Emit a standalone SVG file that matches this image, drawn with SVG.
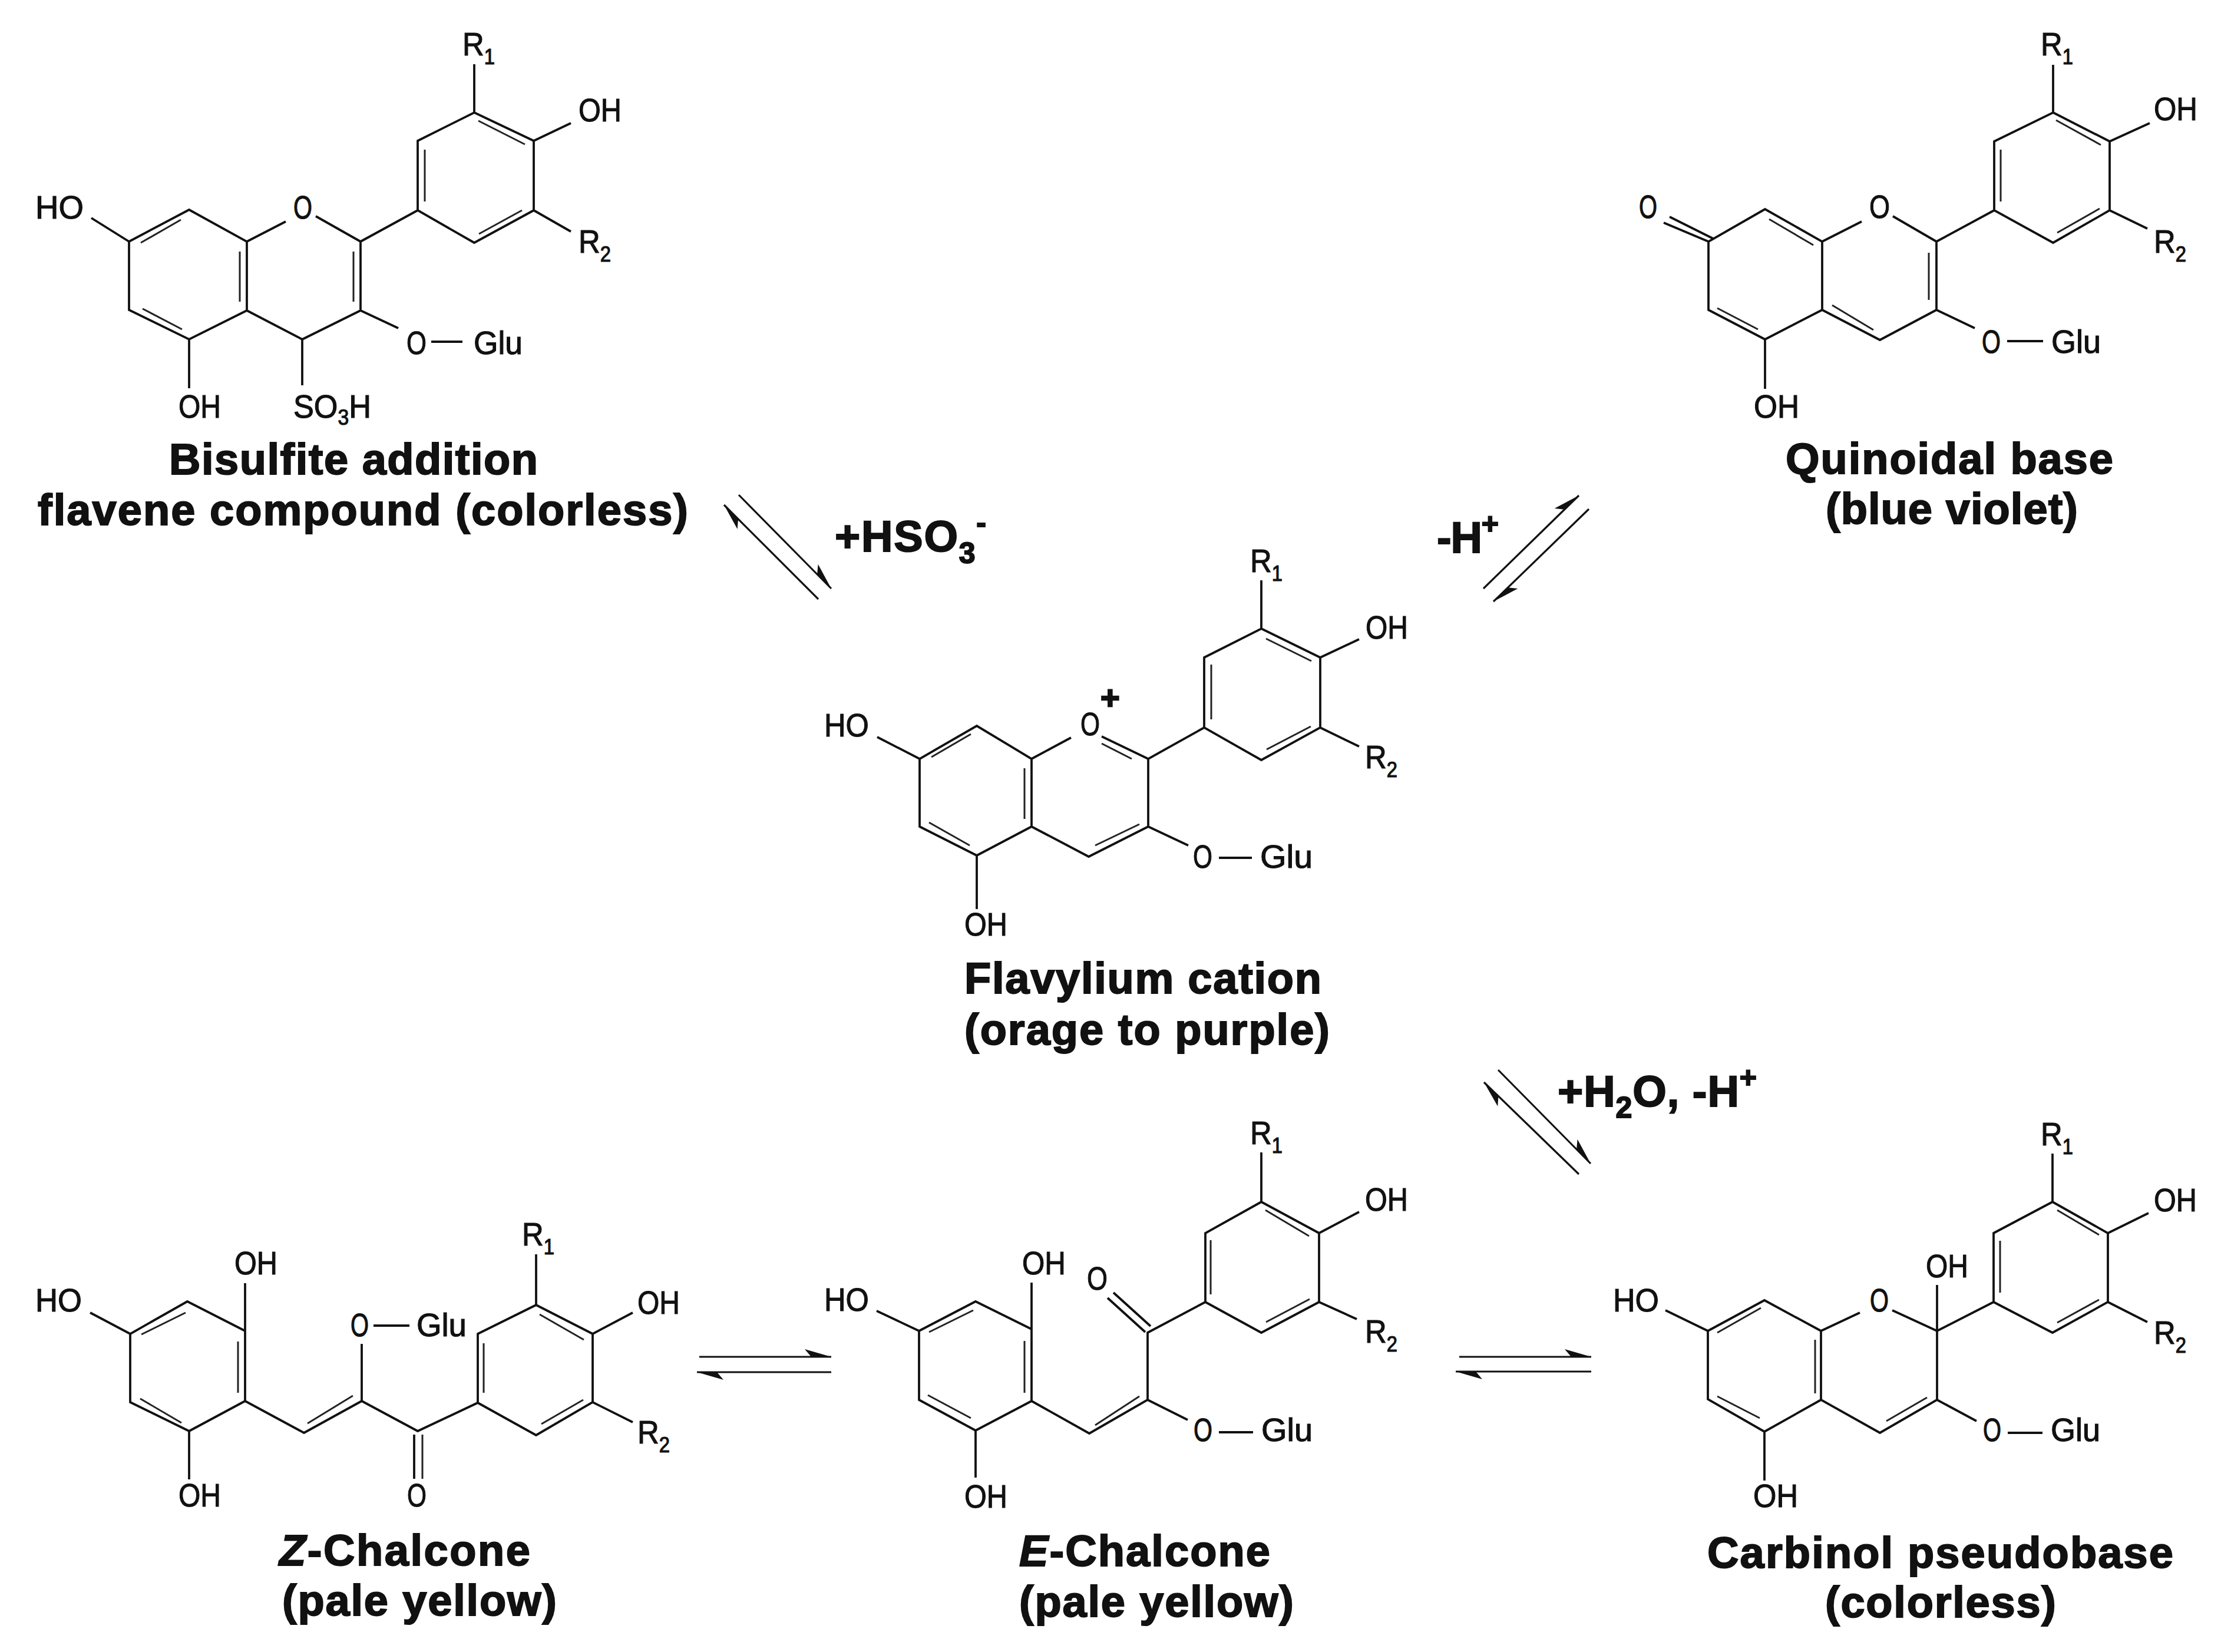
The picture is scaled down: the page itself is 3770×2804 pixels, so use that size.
<svg xmlns="http://www.w3.org/2000/svg" width="3770" height="2804" viewBox="0 0 3770 2804">
<style>
text{font-family:"Liberation Sans",Arial,sans-serif;fill:#111}
.l{font-size:56px;stroke:#111;stroke-width:1.2px}
.t{font-size:74px;font-weight:700;stroke:#111;stroke-width:2px}
.s{font-size:36px}
.ts{font-size:50px}
.b{fill:none;stroke:#111;stroke-width:3.8;stroke-linejoin:miter}
.i{fill:none;stroke:#222;stroke-width:3}
.a{fill:none;stroke:#111;stroke-width:3.2;marker-end:url(#half)}
</style>
<defs>
<marker id="half" markerUnits="userSpaceOnUse" viewBox="0 0 48 16" refX="45" refY="13" markerWidth="48" markerHeight="16" orient="auto" overflow="visible">
<path d="M45,13 L0,0 L11,13 Z" fill="#111"/>
</marker>
</defs>
<rect width="3770" height="2804" fill="#fff"/>

<g id="connectors">
<path class="a" d="M1254,840 L1411,999"/>
<path class="a" d="M1389,1017 L1229,857"/>
<path class="a" d="M2518,999 L2680,841"/>
<path class="a" d="M2697,864 L2535,1021"/>
<path class="a" d="M2543,1816 L2700,1975"/>
<path class="a" d="M2680,1993 L2519,1837"/>
<path class="a" d="M1187,2303 L1411,2303"/>
<path class="a" d="M1411,2329 L1183,2329"/>
<path class="a" d="M2477,2303 L2701,2303"/>
<path class="a" d="M2701,2328 L2471,2328"/>
<text class="t" x="1417" y="936" textLength="257">+HSO<tspan class="ts" dy="20">3</tspan><tspan class="ts" dy="-52">-</tspan></text>
<text class="t" x="2439" y="938" textLength="105">-H<tspan class="ts" dy="-32">+</tspan></text>
<text class="t" x="2644" y="1878" textLength="338">+H<tspan class="ts" dy="19">2</tspan><tspan dy="-19">O, -H</tspan><tspan class="ts" dy="-32">+</tspan></text>
</g>

<g id="bisulfite-flavene">
<path class="b" d="M805,109 L805,191 M805,191 L906,239 L906,357 L805,412 L709,357 L709,239 Z M906,239 L969,209 M906,357 L969,393 M709,357 L612,410 L612,527 L513,576 L419,527 L419,410 L321,356 L219,410 L219,526 L321,576 L419,527 M419,410 L485,376 M612,410 L536,367 M219,410 L155,370 M321,576 L321,659 M513,576 L513,654 M612,527 L676,557 M732,580 L785,580"/>
<path class="i" d="M812,205 L891,245 M721,254 L721,342 M813,397 L886,357 M239,412 L307,373 M242,524 L309,559 M407,427 L407,512 M600,427 L600,512"/>
<text class="l" x="785" y="94" textLength="55" lengthAdjust="spacingAndGlyphs">R<tspan class="s" dy="15">1</tspan></text>
<text class="l" x="982" y="206" textLength="73" lengthAdjust="spacingAndGlyphs">OH</text>
<text class="l" x="982" y="429" textLength="55" lengthAdjust="spacingAndGlyphs">R<tspan class="s" dy="15">2</tspan></text>
<text class="l" x="498" y="371" textLength="32" lengthAdjust="spacingAndGlyphs">O</text>
<text class="l" x="60" y="371" textLength="82" lengthAdjust="spacingAndGlyphs">HO</text>
<text class="l" x="303" y="709" textLength="72" lengthAdjust="spacingAndGlyphs">OH</text>
<text class="l" x="498" y="709" textLength="132" lengthAdjust="spacingAndGlyphs">SO<tspan class="s" dy="12">3</tspan><tspan dy="-12">H</tspan></text>
<text class="l" x="690" y="601" textLength="34" lengthAdjust="spacingAndGlyphs">O</text>
<text class="l" x="804" y="601" textLength="83" lengthAdjust="spacingAndGlyphs">Glu</text>
<text class="t" x="287" y="805" textLength="626">Bisulfite addition</text>
<text class="t" x="64" y="891" textLength="1104">flavene compound (colorless)</text>
</g>

<g id="quinoidal-base">
<path class="b" d="M3485,110 L3485,191 M3485,191 L3581,240 L3581,357 L3485,412 L3385,357 L3385,240 Z M3581,240 L3649,209 M3581,357 L3645,388 M3385,357 L3287,410 L3287,526 L3191,577 L3093,526 L3093,410 L2996,355 L2900,410 L2900,526 L2996,576 L3093,526 M3093,410 L3160,376 M3287,410 L3213,367 M2900,410 L2824,378 M2908,405 L2834,368 M2996,576 L2996,660 M3287,526 L3352,557 M3407,579 L3468,579"/>
<path class="i" d="M3490,204 L3566,246 M3396,254 L3396,342 M3492,395 L3564,354 M3003,372 L3078,416 M3110,518 L3180,560 M2915,523 L2984,559 M3274,429 L3274,509"/>
<text class="l" x="3464" y="94" textLength="55" lengthAdjust="spacingAndGlyphs">R<tspan class="s" dy="15">1</tspan></text>
<text class="l" x="3656" y="204" textLength="74" lengthAdjust="spacingAndGlyphs">OH</text>
<text class="l" x="3656" y="429" textLength="55" lengthAdjust="spacingAndGlyphs">R<tspan class="s" dy="15">2</tspan></text>
<text class="l" x="3173" y="370" textLength="35" lengthAdjust="spacingAndGlyphs">O</text>
<text class="l" x="2782" y="370" textLength="31" lengthAdjust="spacingAndGlyphs">O</text>
<text class="l" x="2977" y="709" textLength="77" lengthAdjust="spacingAndGlyphs">OH</text>
<text class="l" x="3364" y="599" textLength="32" lengthAdjust="spacingAndGlyphs">O</text>
<text class="l" x="3482" y="599" textLength="84" lengthAdjust="spacingAndGlyphs">Glu</text>
<text class="t" x="3031" y="804" textLength="556">Quinoidal base</text>
<text class="t" x="3099" y="889" textLength="428">(blue violet)</text>
</g>

<g id="flavylium-cation">
<path class="b" d="M2141,985 L2141,1067 M2141,1067 L2241,1116 L2241,1235 L2141,1290 L2044,1235 L2044,1116 Z M2241,1116 L2307,1085 M2241,1235 L2307,1267 M2044,1235 L1949,1288 L1949,1403 L1848,1454 L1751,1403 L1751,1288 L1658,1232 L1561,1288 L1561,1403 L1658,1452 L1751,1403 M1751,1288 L1818,1252 M1949,1288 L1870,1250 M1561,1288 L1489,1251 M1658,1452 L1658,1543 M1949,1403 L2017,1435 M2069,1456 L2125,1456"/>
<path class="i" d="M2149,1084 L2226,1122 M2056,1128 L2056,1221 M2150,1272 L2225,1233 M1581,1285 L1648,1246 M1577,1396 L1646,1435 M1739,1304 L1739,1390 M1859,1435 L1934,1399 M1870,1262 L1921,1288"/>
<text class="l" x="2122" y="971" textLength="55" lengthAdjust="spacingAndGlyphs">R<tspan class="s" dy="15">1</tspan></text>
<text class="l" x="2318" y="1084" textLength="72" lengthAdjust="spacingAndGlyphs">OH</text>
<text class="l" x="2317" y="1304" textLength="55" lengthAdjust="spacingAndGlyphs">R<tspan class="s" dy="15">2</tspan></text>
<text class="l" x="1834" y="1248" textLength="33" lengthAdjust="spacingAndGlyphs">O</text>
<text x="1868" y="1203" font-size="56" font-weight="700" stroke="#111" stroke-width="2.5">+</text>
<text class="l" x="1399" y="1250" textLength="76" lengthAdjust="spacingAndGlyphs">HO</text>
<text class="l" x="1637" y="1588" textLength="73" lengthAdjust="spacingAndGlyphs">OH</text>
<text class="l" x="2025" y="1473" textLength="33" lengthAdjust="spacingAndGlyphs">O</text>
<text class="l" x="2139" y="1473" textLength="89" lengthAdjust="spacingAndGlyphs">Glu</text>
<text class="t" x="1637" y="1686" textLength="606">Flavylium cation</text>
<text class="t" x="1637" y="1773" textLength="620">(orage to purple)</text>
</g>

<g id="z-chalcone">
<path class="b" d="M318,2209 L416,2259 L416,2378 L321,2429 L221,2380 L221,2264 Z M416,2178 L416,2259 M221,2264 L153,2228 M321,2429 L321,2511 M416,2378 L516,2432 L614,2378 L709,2429 L811,2381 L910,2436 L1006,2380 L1006,2264 L910,2215 L811,2264 L811,2381 M614,2378 L614,2281 M634,2250 L695,2250 M910,2215 L910,2129 M1006,2264 L1074,2228 M1006,2380 L1074,2414 M703,2435 L703,2510"/>
<path class="i" d="M240,2265 L315,2228 M404,2277 L404,2364 M238,2374 L308,2415 M522,2416 L599,2369 M821,2280 L821,2364 M916,2231 L991,2274 M919,2417 L990,2376 M717,2435 L717,2510"/>
<text class="l" x="398" y="2163" textLength="73" lengthAdjust="spacingAndGlyphs">OH</text>
<text class="l" x="60" y="2226" textLength="79" lengthAdjust="spacingAndGlyphs">HO</text>
<text class="l" x="303" y="2557" textLength="72" lengthAdjust="spacingAndGlyphs">OH</text>
<text class="l" x="595" y="2268" textLength="31" lengthAdjust="spacingAndGlyphs">O</text>
<text class="l" x="707" y="2268" textLength="85" lengthAdjust="spacingAndGlyphs">Glu</text>
<text class="l" x="691" y="2557" textLength="33" lengthAdjust="spacingAndGlyphs">O</text>
<text class="l" x="886" y="2114" textLength="55" lengthAdjust="spacingAndGlyphs">R<tspan class="s" dy="15">1</tspan></text>
<text class="l" x="1082" y="2230" textLength="72" lengthAdjust="spacingAndGlyphs">OH</text>
<text class="l" x="1082" y="2450" textLength="55" lengthAdjust="spacingAndGlyphs">R<tspan class="s" dy="15">2</tspan></text>
<text class="t" x="474" y="2657" textLength="426"><tspan font-style="italic">Z</tspan>-Chalcone</text>
<text class="t" x="479" y="2742" textLength="466">(pale yellow)</text>
</g>

<g id="e-chalcone">
<path class="b" d="M1656,2209 L1751,2256 L1751,2378 L1656,2428 L1560,2376 L1560,2259 Z M1751,2177 L1751,2256 M1560,2259 L1488,2225 M1656,2428 L1656,2508 M1751,2378 L1849,2433 L1948,2376 L1948,2262 L2046,2210 L2141,2262 L2239,2210 L2239,2093 L2141,2040 L2046,2093 L2046,2210 M1944,2261 L1880,2203 M1953,2251 L1890,2194 M2141,2040 L2141,1956 M2239,2093 L2307,2057 M2239,2210 L2303,2239 M1948,2376 L2016,2410 M2069,2431 L2127,2431"/>
<path class="i" d="M1577,2261 L1652,2224 M1739,2276 L1739,2364 M1575,2368 L1648,2407 M1859,2419 L1934,2370 M2055,2105 L2055,2197 M2148,2054 L2222,2098 M2149,2244 L2223,2205"/>
<text class="l" x="1735" y="2163" textLength="74" lengthAdjust="spacingAndGlyphs">OH</text>
<text class="l" x="1399" y="2225" textLength="76" lengthAdjust="spacingAndGlyphs">HO</text>
<text class="l" x="1637" y="2559" textLength="73" lengthAdjust="spacingAndGlyphs">OH</text>
<text class="l" x="1845" y="2189" textLength="35" lengthAdjust="spacingAndGlyphs">O</text>
<text class="l" x="2122" y="1942" textLength="55" lengthAdjust="spacingAndGlyphs">R<tspan class="s" dy="15">1</tspan></text>
<text class="l" x="2317" y="2055" textLength="73" lengthAdjust="spacingAndGlyphs">OH</text>
<text class="l" x="2317" y="2279" textLength="55" lengthAdjust="spacingAndGlyphs">R<tspan class="s" dy="15">2</tspan></text>
<text class="l" x="2026" y="2446" textLength="32" lengthAdjust="spacingAndGlyphs">O</text>
<text class="l" x="2141" y="2446" textLength="87" lengthAdjust="spacingAndGlyphs">Glu</text>
<text class="t" x="1730" y="2658" textLength="426"><tspan font-style="italic">E</tspan>-Chalcone</text>
<text class="t" x="1730" y="2744" textLength="466">(pale yellow)</text>
</g>

<g id="carbinol-pseudobase">
<path class="b" d="M3484,1958 L3484,2040 M3484,2040 L3578,2093 L3578,2210 L3484,2262 L3384,2210 L3384,2093 Z M3578,2093 L3647,2059 M3578,2210 L3645,2244 M3384,2210 L3288,2259 L3288,2376 L3191,2432 L3091,2376 L3091,2259 L2995,2207 L2899,2259 L2899,2375 L2995,2430 L3091,2376 M3288,2181 L3288,2259 M3091,2259 L3157,2228 M3288,2259 L3212,2224 M2899,2259 L2827,2224 M2995,2430 L2995,2513 M3288,2376 L3355,2412 M3408,2432 L3467,2432"/>
<path class="i" d="M3492,2054 L3563,2096 M3395,2106 L3395,2194 M3492,2245 L3563,2206 M2915,2262 L2989,2220 M2915,2370 L2987,2407 M3081,2274 L3081,2365 M3202,2412 L3271,2372"/>
<text class="l" x="3464" y="1944" textLength="55" lengthAdjust="spacingAndGlyphs">R<tspan class="s" dy="15">1</tspan></text>
<text class="l" x="3656" y="2056" textLength="73" lengthAdjust="spacingAndGlyphs">OH</text>
<text class="l" x="3656" y="2281" textLength="55" lengthAdjust="spacingAndGlyphs">R<tspan class="s" dy="15">2</tspan></text>
<text class="l" x="3269" y="2168" textLength="72" lengthAdjust="spacingAndGlyphs">OH</text>
<text class="l" x="3174" y="2226" textLength="32" lengthAdjust="spacingAndGlyphs">O</text>
<text class="l" x="2738" y="2226" textLength="78" lengthAdjust="spacingAndGlyphs">HO</text>
<text class="l" x="2976" y="2558" textLength="76" lengthAdjust="spacingAndGlyphs">OH</text>
<text class="l" x="3366" y="2446" textLength="31" lengthAdjust="spacingAndGlyphs">O</text>
<text class="l" x="3481" y="2446" textLength="84" lengthAdjust="spacingAndGlyphs">Glu</text>
<text class="t" x="2898" y="2661" textLength="791">Carbinol pseudobase</text>
<text class="t" x="3098" y="2745" textLength="392">(colorless)</text>
</g>
</svg>
